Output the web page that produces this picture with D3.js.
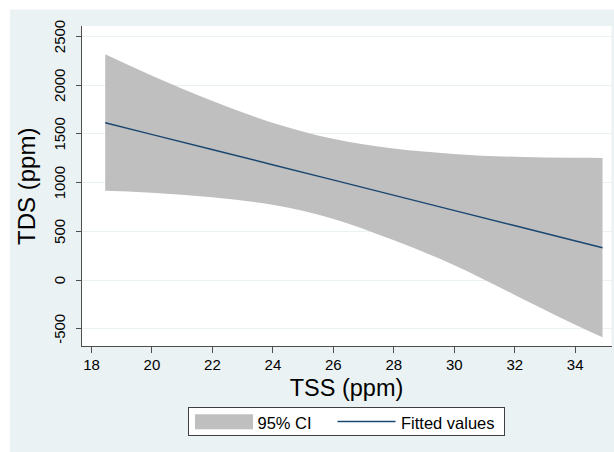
<!DOCTYPE html>
<meta charset="utf-8">
<style>
body { margin: 0; background: #fff; }
svg { display: block; font-family: "Liberation Sans", Arial, sans-serif; }
.axis path, .axis line { stroke: #4d4d4d; stroke-width: 1; shape-rendering: crispEdges; }
.grid line { stroke: #eaf2f3; stroke-width: 1; shape-rendering: crispEdges; }
</style>
<body>
<div id="chart"></div>
<script src="https://d3js.org/d3.v7.min.js"></script>
<script>
// values
var tss    = [18.47, 20, 22, 24, 26, 28, 30, 32, 34, 34.92];
var fitted = [1610, 1491, 1335, 1179, 1023, 867, 711, 555, 399, 327];
var upper  = [2312, 2095, 1835, 1610, 1445, 1345, 1290, 1260, 1250, 1248];
var lower  = [912, 892, 845, 768, 625, 405, 150, -155, -460, -593];
var xTicks = [18, 20, 22, 24, 26, 28, 30, 32, 34];
var yTicks = [-500, 0, 500, 1000, 1500, 2000, 2500];

var width = 614, height = 452;
var plot = {left: 81.5, right: 611.5, top: 26, bottom: 346.5};

var svg = d3.select("#chart").append("svg")
    .attr("width", width)
    .attr("height", height);

// outer background
svg.append("rect")
    .attr("x", 10).attr("y", 9.5)
    .attr("width", width - 10).attr("height", height - 9.5)
    .attr("fill", "#eaf2f3");

// plot region
svg.append("rect")
    .attr("x", plot.left).attr("y", plot.top)
    .attr("width", plot.right - plot.left).attr("height", plot.bottom - plot.top)
    .attr("fill", "#fff");

var x = d3.scaleLinear().domain([18, 34]).range([91, 574.7]);
var y = d3.scaleLinear().domain([-500, 2500]).range([328.3, 36]);

// gridlines
svg.append("g").attr("class", "grid")
  .selectAll("line").data(yTicks).enter().append("line")
    .attr("x1", plot.left).attr("x2", plot.right)
    .attr("y1", d => Math.round(y(d)) + 0.5).attr("y2", d => Math.round(y(d)) + 0.5);

var band = tss.map((t, i) => ({x: t, lo: lower[i], hi: upper[i], f: fitted[i]}));

// 95% CI
svg.append("path")
    .datum(band)
    .attr("fill", "#bfbfbf")
    .attr("d", d3.area()
        .x(d => x(d.x))
        .y0(d => y(d.lo))
        .y1(d => y(d.hi))
        .curve(d3.curveMonotoneX));

// fitted line
svg.append("path")
    .datum(band)
    .attr("fill", "none")
    .attr("stroke", "#1a476f")
    .attr("stroke-width", 1.4)
    .attr("d", d3.line().x(d => x(d.x)).y(d => y(d.f)));

// y axis
var yAxis = svg.append("g").attr("class", "axis")
    .attr("transform", `translate(${plot.left},0)`)
    .call(d3.axisLeft(y).tickValues(yTicks).tickSize(5.5).tickSizeOuter(0).tickFormat(d => String(d)));
yAxis.select(".domain").attr("d", `M0,${plot.top}V${plot.bottom}`);
yAxis.selectAll("text")
    .attr("x", 0).attr("y", 0).attr("dy", 0)
    .attr("transform", d => `translate(-16.5,0) rotate(-90)`)
    .style("text-anchor", "middle")
    .attr("fill", "#000")
    .style("font-size", "15px");

// x axis
var xAxis = svg.append("g").attr("class", "axis")
    .attr("transform", `translate(0,${plot.bottom})`)
    .call(d3.axisBottom(x).tickValues(xTicks).tickSize(6).tickSizeOuter(0));
xAxis.select(".domain").attr("d", `M${plot.left},0H${plot.right}`);
xAxis.selectAll("text")
    .attr("y", 23.5).attr("dy", 0)
    .attr("fill", "#000")
    .style("font-size", "15px");

// axis titles
svg.append("text")
    .attr("x", (plot.left + plot.right) / 2).attr("y", 395.5)
    .attr("text-anchor", "middle")
    .style("font-size", "23.5px")
    .text("TSS (ppm)");

svg.append("text")
    .attr("transform", `translate(35,${(plot.top + plot.bottom) / 2}) rotate(-90)`)
    .attr("text-anchor", "middle")
    .style("font-size", "24px")
    .text("TDS (ppm)");

// legend
var legend = svg.append("g");
legend.append("rect")
    .attr("x", 188.5).attr("y", 407.5)
    .attr("width", 316).attr("height", 28)
    .attr("fill", "#fff").attr("stroke", "#404040");
legend.append("rect")
    .attr("x", 195).attr("y", 414.3)
    .attr("width", 58).attr("height", 15)
    .attr("fill", "#bfbfbf");
legend.append("text")
    .attr("x", 257.5).attr("y", 429)
    .style("font-size", "16.5px")
    .text("95% CI");
legend.append("line")
    .attr("x1", 337.5).attr("x2", 395.5)
    .attr("y1", 421.5).attr("y2", 421.5)
    .attr("stroke", "#1a476f").attr("stroke-width", 1.4);
legend.append("text")
    .attr("x", 401).attr("y", 429)
    .style("font-size", "16.5px")
    .text("Fitted values");
</script>
</body>
